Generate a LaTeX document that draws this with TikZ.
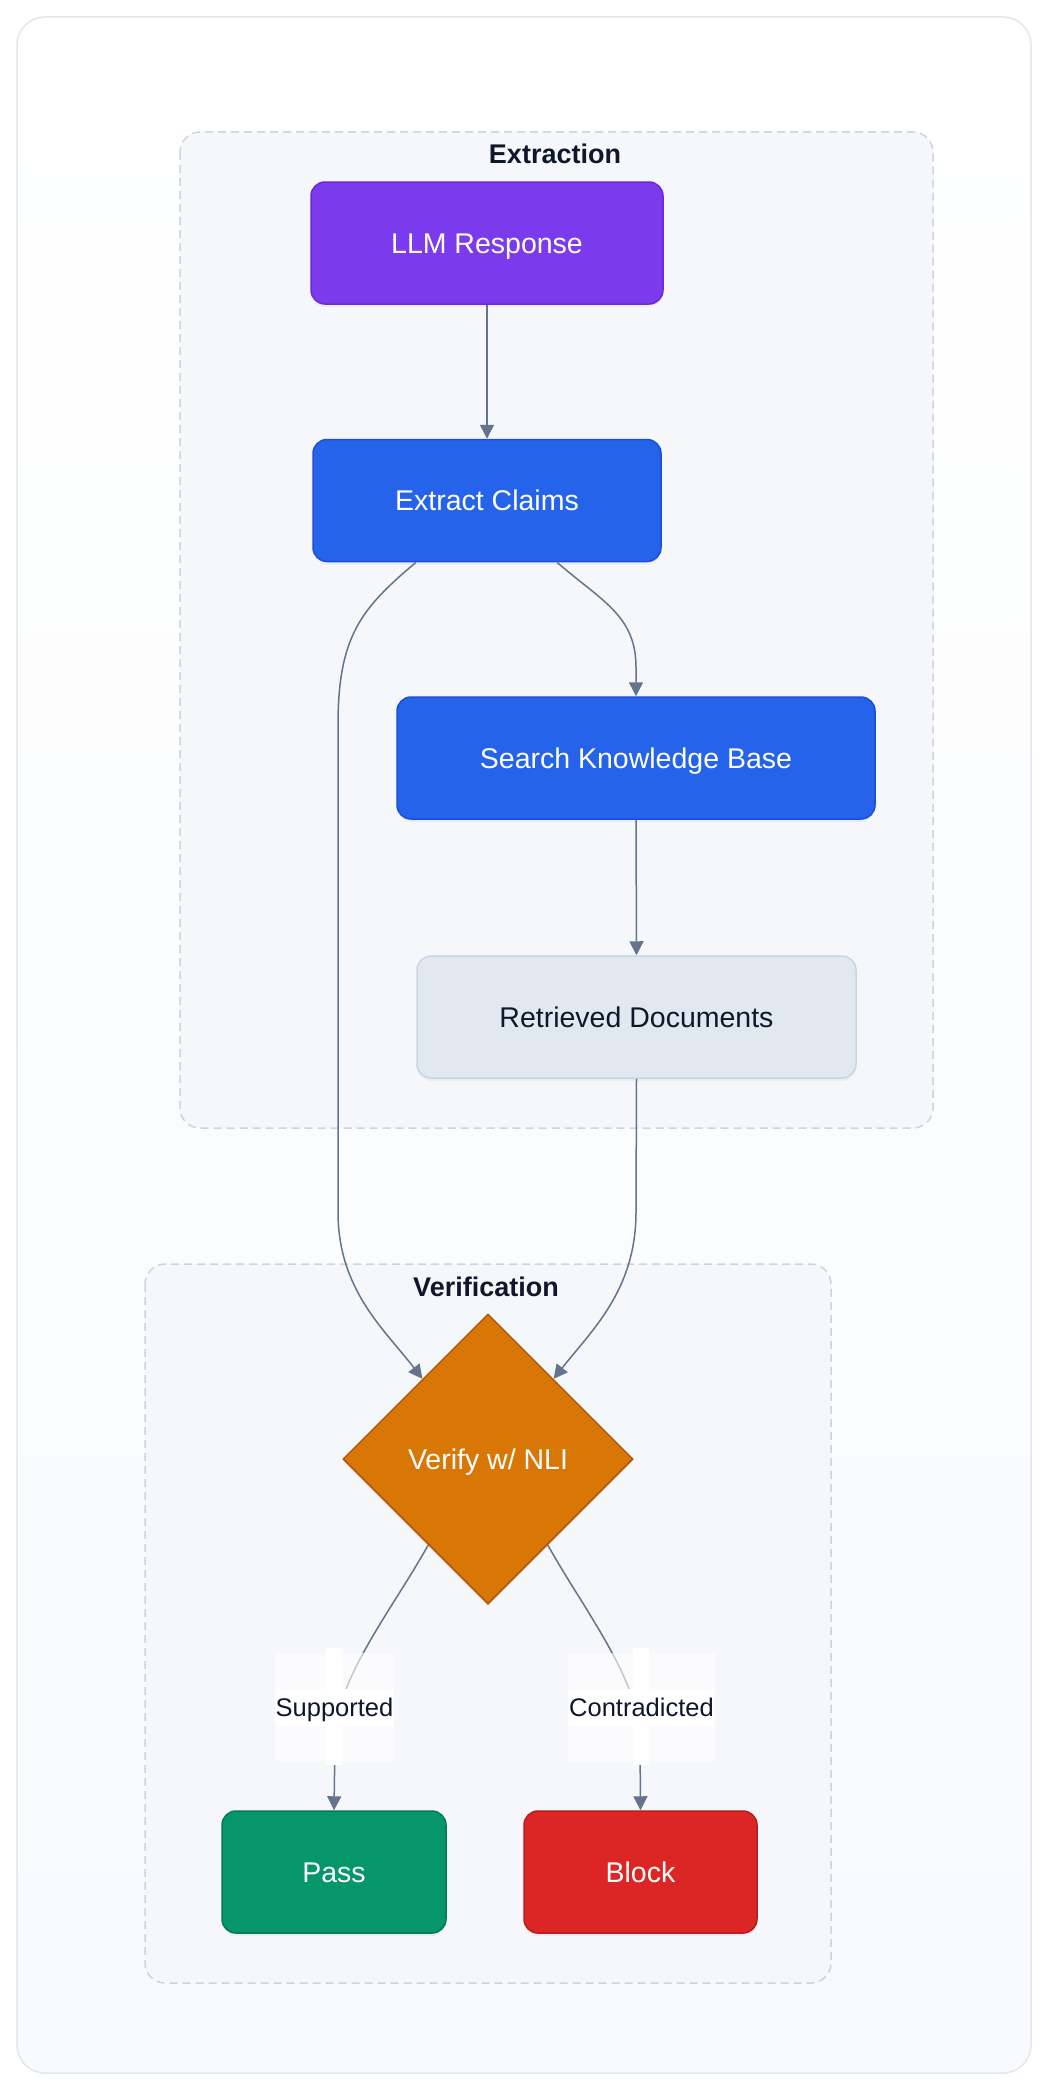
\documentclass[tikz,border=0pt]{standalone}
\usepackage{fontspec}
\setmainfont{Liberation Sans}
\usetikzlibrary{shapes.geometric,arrows.meta,calc,shadows}
\definecolor{edgec}{HTML}{64748B}
\definecolor{grpfill}{HTML}{F5F7FA}
\definecolor{grpline}{HTML}{CBD5E1}
\definecolor{outline}{HTML}{E2E8F0}
\definecolor{darktext}{HTML}{0F172A}
\definecolor{bgbottom}{HTML}{F8FAFC}
\definecolor{purplef}{HTML}{7C3AED}\definecolor{purpled}{HTML}{6D28D9}
\definecolor{bluef}{HTML}{2563EB}\definecolor{blued}{HTML}{1D4ED8}
\definecolor{grayf}{HTML}{E2E8F0}\definecolor{grayd}{HTML}{CBD5E1}
\definecolor{amberf}{HTML}{D97706}\definecolor{amberd}{HTML}{B45309}
\definecolor{greenf}{HTML}{059669}\definecolor{greend}{HTML}{047857}
\definecolor{redf}{HTML}{DC2626}\definecolor{redd}{HTML}{B91C1C}
\begin{document}
\begin{tikzpicture}[x=1pt,y=-1pt,
  box/.style={rectangle, rounded corners=14pt, line width=1.5pt, inner sep=0pt,
    minimum height=122pt, font=\fontsize{28.5}{34}\selectfont, text=white,
    text height=20.5pt, text depth=0pt,
    drop shadow={shadow xshift=0pt, shadow yshift=-3pt, opacity=0.08}},
  dia/.style={diamond, aspect=1, line width=1.5pt, inner sep=0pt,
    minimum width=290pt, minimum height=290pt, font=\fontsize{28.5}{34}\selectfont, text=white,
    text height=20.5pt, text depth=0pt,
    drop shadow={shadow xshift=0pt, shadow yshift=-3pt, opacity=0.08}},
  grp/.style={draw=grpline, fill=grpfill, line width=1.5pt, dash pattern=on 8pt off 5pt, rounded corners=20pt},
  grptitle/.style={font=\bfseries\fontsize{27}{32}\selectfont, text=darktext, inner sep=0pt},
  conn/.style={draw=edgec, line width=1.5pt, -{Triangle[length=14pt,width=14pt]}},
  lbl/.style={font=\fontsize{25.5}{30}\selectfont, text=darktext, fill=white, inner xsep=1pt, inner ysep=0pt,
    minimum height=37pt, text height=18.5pt, text depth=0pt},
]
\useasboundingbox (0,0) rectangle (1048,2090);
\fill[white] (0,0) rectangle (1048,2090);
\shade[top color=white, bottom color=bgbottom, rounded corners=28pt] (17,17) rectangle (1031,2073);
\draw[outline, line width=1.5pt, rounded corners=28pt] (17,17) rectangle (1031,2073);

% groups
\path[grp] (180,132) rectangle (933,1128);
\node[grptitle] (t1) at (555,154) {Extraction};
\path[grp] (145,1264) rectangle (831,1983);
\node[grptitle] (t2) at (486,1287) {Verification};

% nodes
\node[box, fill=purplef, draw=purpled, minimum width=352pt] (llm) at (487,243) {LLM Response};
\node[box, fill=bluef, draw=blued, minimum width=348pt] (extract) at (487,500.5) {Extract Claims};
\node[box, fill=bluef, draw=blued, minimum width=478pt] (search) at (636,758) {Search Knowledge Base};
\node[box, fill=grayf, draw=grayd, minimum width=439pt, text=darktext] (docs) at (636.5,1017) {Retrieved Documents};
\node[dia, fill=amberf, draw=amberd] (verify) at (488,1459) {Verify w/ NLI};
\node[box, fill=greenf, draw=greend, minimum width=224pt] (pass) at (334,1872) {Pass};
\node[box, fill=redf, draw=redd, minimum width=233pt] (block) at (640.5,1872) {Block};

% connectors
\draw[conn] (llm.south) -- (extract.north);
\draw[conn] ([xshift=70pt]extract.south) .. controls (600,600) and (636,615) .. (636,667) -- (search.north);
\draw[conn] (search.south) -- (docs.north);
\draw[conn] ([xshift=-71pt]extract.south) .. controls (362,608) and (338,635) .. (338,725) -- (338,1212)
   .. controls (338,1290) and (385,1330) .. ($(verify.north)!0.45!(verify.west)$);
\draw[conn] (docs.south) -- (636,1212) .. controls (636,1290) and (592,1330) .. ($(verify.north)!0.45!(verify.east)$);
\draw[conn] ($(verify.west)!0.59!(verify.south)$) .. controls (392,1610) and (335,1680) .. (335,1740) -- (pass.north);
\draw[conn] ($(verify.east)!0.59!(verify.south)$) .. controls (584,1610) and (640,1680) .. (640,1740) -- (block.north);

% edge labels
\fill[white, opacity=0.6] (275,1653) rectangle (394,1761);
\fill[white] (326,1648) rectangle (342,1765);
\node[lbl] (l1) at (334.5,1707.5) {Supported};
\fill[white, opacity=0.6] (568,1653) rectangle (715,1761);
\fill[white] (633,1648) rectangle (649,1765);
\node[lbl] (l2) at (641.5,1707.5) {Contradicted};
\end{tikzpicture}
\end{document}
